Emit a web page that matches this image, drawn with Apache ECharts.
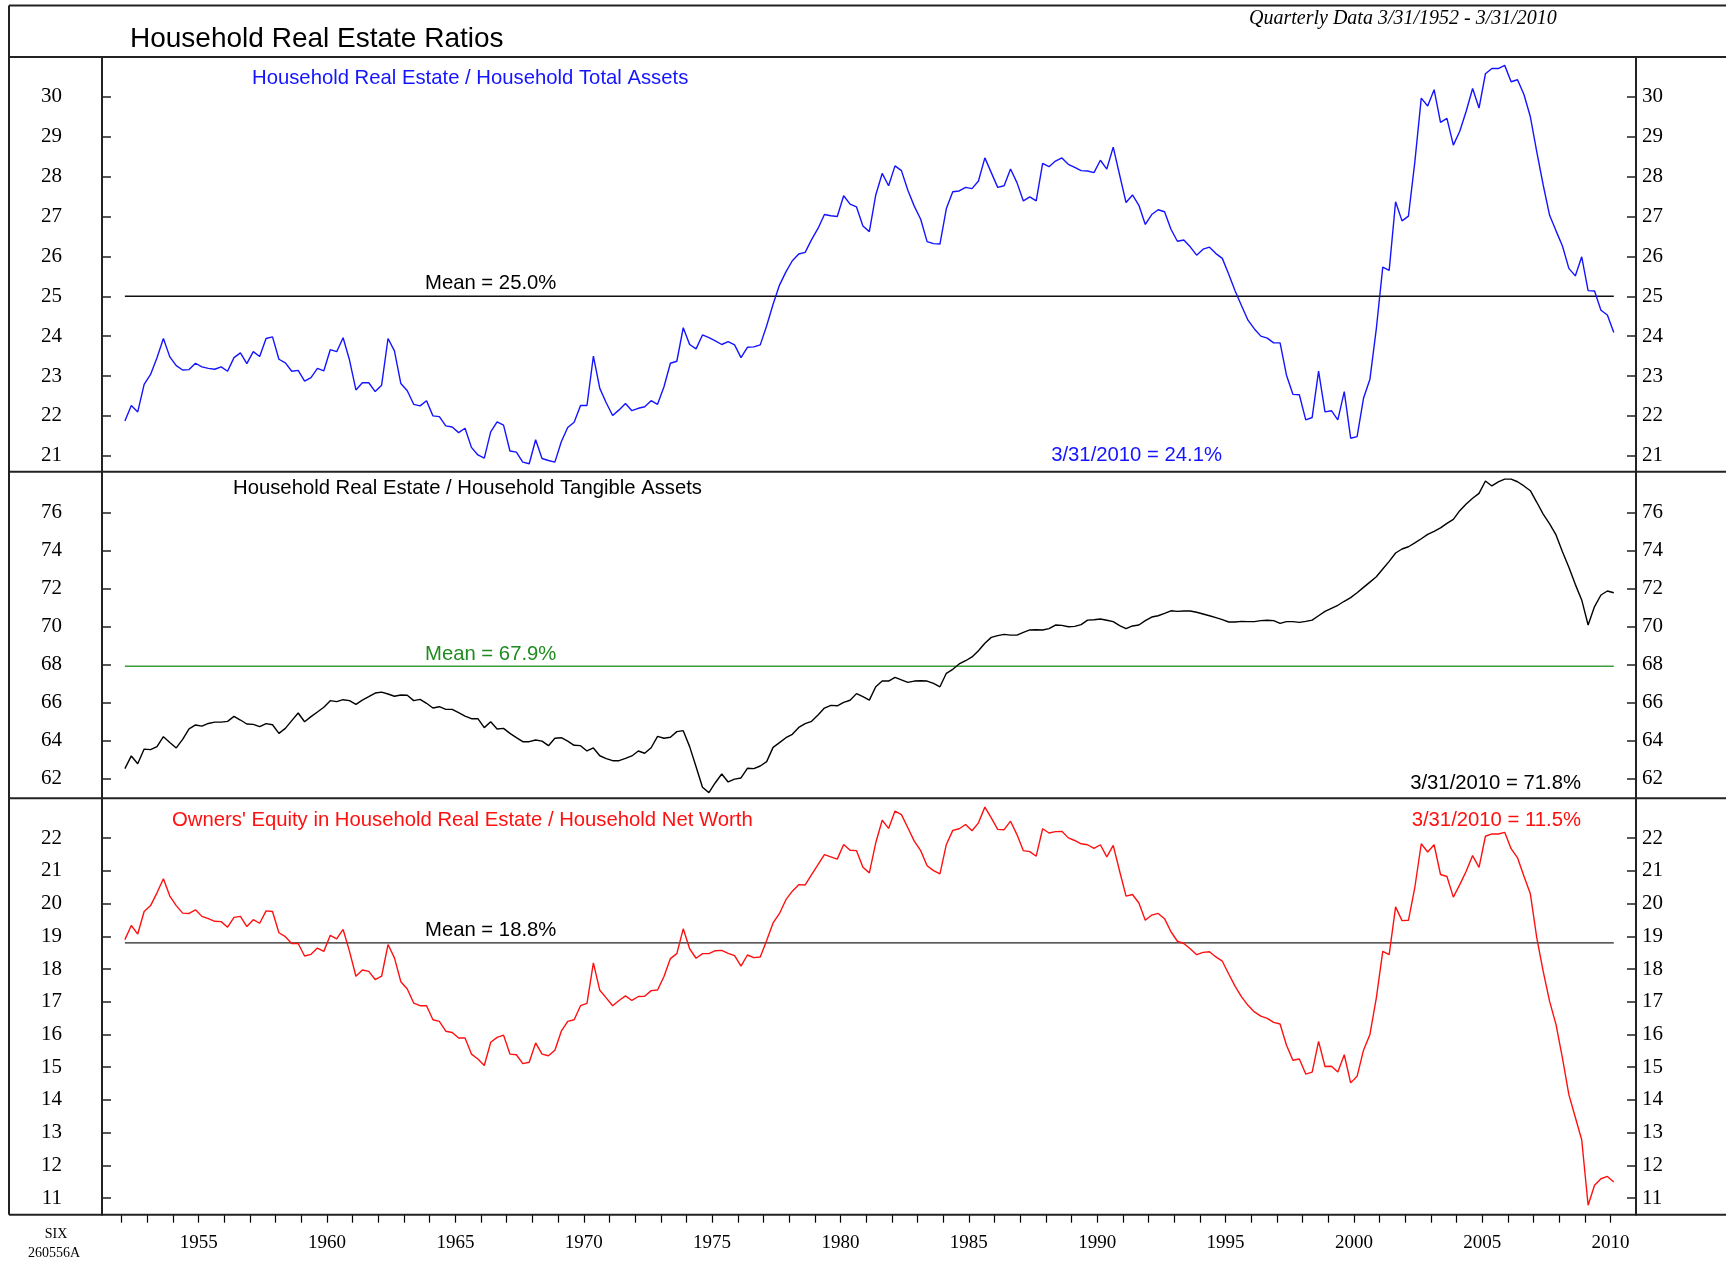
<!DOCTYPE html>
<html>
<head>
<meta charset="utf-8">
<title>Household Real Estate Ratios</title>
<script src="https://cdn.jsdelivr.net/npm/echarts@6/dist/echarts.min.js"></script>
<style>
  html, body { margin: 0; padding: 0; background: #ffffff; }
  #chart { width: 1726px; height: 1263px; }
</style>
</head>
<body>
<div id="chart"></div>
<script>
// ---------------- DATA (quarterly, 3/31/1952 - 3/31/2010) ----------------
const startYear = 1952;

// Household Real Estate / Household Total Assets (%)
const reTotalAssets = [
  21.87,22.26,22.10,22.79,23.04,23.46,23.94,23.48,23.26,23.15,
  23.16,23.32,23.23,23.19,23.17,23.23,23.12,23.46,23.58,23.31,
  23.61,23.49,23.94,23.98,23.42,23.33,23.12,23.14,22.87,22.96,
  23.19,23.13,23.66,23.61,23.96,23.40,22.65,22.83,22.83,22.61,
  22.77,23.94,23.63,22.81,22.63,22.29,22.25,22.38,22.00,21.98,
  21.75,21.72,21.58,21.69,21.21,21.02,20.94,21.60,21.85,21.77,
  21.12,21.09,20.84,20.80,21.40,20.93,20.88,20.84,21.35,21.71,
  21.84,22.26,22.26,23.50,22.69,22.33,22.01,22.15,22.31,22.13,
  22.19,22.23,22.38,22.29,22.73,23.32,23.37,24.21,23.79,23.68,
  24.03,23.96,23.88,23.79,23.86,23.78,23.46,23.72,23.73,23.78,
  24.26,24.80,25.28,25.61,25.89,26.06,26.10,26.42,26.70,27.05,
  27.02,27.00,27.52,27.31,27.24,26.76,26.62,27.54,28.08,27.77,
  28.27,28.15,27.66,27.26,26.93,26.37,26.32,26.31,27.20,27.62,
  27.64,27.73,27.70,27.89,28.47,28.10,27.73,27.77,28.19,27.85,
  27.39,27.49,27.39,28.33,28.25,28.39,28.47,28.31,28.23,28.15,
  28.14,28.10,28.41,28.19,28.74,28.04,27.35,27.54,27.28,26.80,
  27.05,27.17,27.12,26.68,26.38,26.41,26.24,26.03,26.18,26.23,
  26.07,25.95,25.55,25.13,24.76,24.40,24.18,24.00,23.95,23.83,
  23.83,23.02,22.54,22.53,21.90,21.96,23.12,22.10,22.13,21.90,
  22.61,21.44,21.48,22.44,22.92,24.19,25.73,25.65,27.37,26.89,
  27.01,28.37,29.97,29.77,30.18,29.36,29.46,28.79,29.14,29.64,
  30.21,29.72,30.58,30.71,30.71,30.79,30.38,30.43,30.06,29.50,
  28.62,27.79,27.03,26.64,26.26,25.70,25.51,25.99,25.14,25.13,
  24.65,24.53,24.09
];

// Household Real Estate / Household Tangible Assets (%)
const reTangibleAssets = [
  62.51,63.18,62.77,63.54,63.51,63.67,64.19,63.89,63.60,64.05,
  64.60,64.81,64.75,64.89,64.96,64.96,65.00,65.26,65.07,64.86,
  64.84,64.72,64.88,64.82,64.37,64.63,65.04,65.44,64.98,65.25,
  65.49,65.74,66.09,66.04,66.14,66.09,65.89,66.12,66.30,66.49,
  66.54,66.44,66.32,66.39,66.37,66.09,66.16,65.95,65.70,65.77,
  65.63,65.63,65.46,65.28,65.14,65.14,64.67,64.98,64.60,64.63,
  64.37,64.14,63.93,63.93,64.02,63.96,63.72,64.11,64.14,63.96,
  63.74,63.72,63.44,63.60,63.19,63.04,62.93,62.93,63.05,63.18,
  63.44,63.32,63.61,64.21,64.11,64.16,64.46,64.51,63.67,62.61,
  61.53,61.25,61.77,62.23,61.81,61.96,62.02,62.53,62.51,62.65,
  62.88,63.63,63.88,64.14,64.32,64.68,64.88,65.00,65.33,65.70,
  65.84,65.82,66.00,66.11,66.46,66.30,66.12,66.82,67.12,67.12,
  67.32,67.18,67.05,67.12,67.14,67.12,67.00,66.82,67.53,67.74,
  68.02,68.19,68.39,68.72,69.11,69.42,69.51,69.58,69.54,69.54,
  69.68,69.81,69.82,69.81,69.88,70.07,70.05,69.98,70.00,70.09,
  70.33,70.35,70.39,70.32,70.25,70.04,69.88,70.02,70.07,70.30,
  70.49,70.56,70.68,70.82,70.79,70.81,70.81,70.74,70.65,70.56,
  70.46,70.35,70.23,70.23,70.26,70.25,70.25,70.30,70.32,70.30,
  70.16,70.25,70.25,70.21,70.26,70.33,70.56,70.79,70.95,71.11,
  71.32,71.51,71.77,72.05,72.33,72.61,73.02,73.42,73.86,74.07,
  74.19,74.39,74.61,74.84,75.00,75.18,75.42,75.63,76.09,76.44,
  76.74,77.00,77.65,77.39,77.60,77.75,77.75,77.61,77.39,77.14,
  76.53,75.91,75.39,74.81,73.93,73.11,72.21,71.39,70.07,71.04,
  71.65,71.86,71.77
];

// Owners' Equity in Household Real Estate / Household Net Worth (%)
const ownersEquityNetWorth = [
  18.90,19.33,19.07,19.76,19.94,20.33,20.76,20.23,19.94,19.71,
  19.70,19.81,19.61,19.54,19.46,19.45,19.28,19.58,19.61,19.30,
  19.51,19.40,19.78,19.76,19.11,18.99,18.78,18.78,18.40,18.45,
  18.64,18.54,19.03,18.92,19.21,18.54,17.78,17.97,17.93,17.68,
  17.78,18.75,18.34,17.61,17.39,16.96,16.88,16.88,16.45,16.40,
  16.10,16.06,15.89,15.89,15.40,15.25,15.05,15.76,15.91,15.98,
  15.40,15.38,15.11,15.15,15.74,15.40,15.35,15.52,16.10,16.40,
  16.45,16.88,16.95,18.19,17.35,17.12,16.88,17.04,17.18,17.04,
  17.16,17.17,17.34,17.36,17.77,18.32,18.47,19.23,18.62,18.33,
  18.47,18.47,18.56,18.57,18.48,18.41,18.09,18.43,18.35,18.37,
  18.87,19.41,19.70,20.12,20.38,20.58,20.57,20.89,21.19,21.50,
  21.43,21.36,21.81,21.63,21.62,21.11,20.94,21.86,22.55,22.30,
  22.83,22.72,22.32,21.91,21.62,21.16,21.01,20.91,21.81,22.24,
  22.29,22.42,22.23,22.47,22.95,22.62,22.27,22.26,22.52,22.11,
  21.62,21.59,21.45,22.29,22.16,22.20,22.21,22.01,21.93,21.83,
  21.80,21.69,21.80,21.43,21.78,20.99,20.23,20.28,20.02,19.49,
  19.65,19.70,19.54,19.14,18.85,18.78,18.62,18.44,18.51,18.53,
  18.37,18.24,17.85,17.47,17.15,16.89,16.69,16.56,16.49,16.37,
  16.32,15.67,15.21,15.25,14.79,14.85,15.79,15.02,15.03,14.85,
  15.38,14.52,14.72,15.52,16.00,17.12,18.54,18.44,19.90,19.48,
  19.49,20.50,21.83,21.58,21.80,20.89,20.83,20.20,20.58,20.99,
  21.47,21.11,22.06,22.13,22.13,22.18,21.68,21.40,20.84,20.30,
  18.95,17.93,17.01,16.30,15.28,14.16,13.47,12.78,10.78,11.39,
  11.59,11.66,11.49
];

const means = [25.0, 67.9, 18.8];
const latest = [24.1, 71.8, 11.5];

const yTicks1 = [21,22,23,24,25,26,27,28,29,30];
const yTicks2 = [62,64,66,68,70,72,74,76];
const yTicks3 = [11,12,13,14,15,16,17,18,19,20,21,22];
const yearLabels = [1955,1960,1965,1970,1975,1980,1985,1990,1995,2000,2005,2010];
const yearTicks = [];
for (let y = 1952; y <= 2010; y++) yearTicks.push(y);

// ---------------- BUILD ----------------
// quarter-end dates plotted at mid-quarter position on a year scale
const times = reTotalAssets.map((_, i) => startYear + 0.125 + 0.25 * i);
const pairs = arr => arr.map((v, i) => [times[i], v]);
const meanPairs = m => [[times[0], m], [times[times.length - 1], m]];

const LEFT = 102, RIGHT_X = 1636;
const P1T = 57, P1B = 471.7, P2B = 798.3, P3B = 1214.7;
const XMIN = 1951.233, XMAX = 2010.99;
const SERIF = '"Liberation Serif", "Times New Roman", serif';
const SANS = '"Liberation Sans", Arial, sans-serif';

function xAxisFor(idx, showLabels) {
  return {
    type: 'value', gridIndex: idx, min: XMIN, max: XMAX,
    splitLine: { show: false },
    axisLine: { show: false },
    axisTick: showLabels ? {
      show: true, inside: false, length: 8, customValues: yearTicks,
      lineStyle: { color: '#000', width: 1.2 }
    } : { show: false },
    axisLabel: showLabels ? {
      show: true, customValues: yearLabels, margin: 19,
      fontFamily: SERIF, fontSize: 19, color: '#000',
      formatter: v => String(Math.round(v))
    } : { show: false }
  };
}
function yAxisFor(idx, min, max, ticks, pos) {
  return {
    type: 'value', gridIndex: idx, position: pos, min: min, max: max,
    splitLine: { show: false },
    axisLine: { show: true, onZero: false, lineStyle: { color: '#222', width: 2 } },
    axisTick: { show: true, inside: true, length: 9, customValues: ticks,
      lineStyle: { color: '#222', width: 1.5 } },
    axisLabel: { show: true, customValues: ticks, margin: pos === 'left' ? 40 : 6,
      fontFamily: SERIF, fontSize: 21, color: '#000',
      formatter: v => String(Math.round(v)) }
  };
}

const grids = [
  { left: LEFT, width: RIGHT_X - LEFT, top: P1T, height: P1B - P1T },
  { left: LEFT, width: RIGHT_X - LEFT, top: P1B, height: P2B - P1B },
  { left: LEFT, width: RIGHT_X - LEFT, top: P2B, height: P3B - P2B }
];

const lineSeries = (name, xi, yi, data, color, width) => ({
  name, type: 'line', xAxisIndex: xi, yAxisIndex: yi, data,
  showSymbol: false, symbol: 'none', silent: true,
  lineStyle: { color, width }, z: 3
});

function hline(x1, y1, x2, y2, w) {
  return { type: 'line', shape: { x1, y1, x2, y2 },
    style: { stroke: '#222', lineWidth: w || 2 }, z: 10 };
}
function txt(text, x, y, opts) {
  return { type: 'text', z: 11, style: Object.assign({
    text, x, y, fill: '#000', font: '20.3px ' + SANS,
    textAlign: 'left', textVerticalAlign: 'middle'
  }, opts || {}) };
}

const option = {
  animation: false,
  backgroundColor: '#ffffff',
  grid: grids,
  xAxis: [xAxisFor(0, false), xAxisFor(1, false), xAxisFor(2, true)],
  yAxis: [
    yAxisFor(0, 20.6, 31.0, yTicks1, 'left'),
    yAxisFor(0, 20.6, 31.0, yTicks1, 'right'),
    yAxisFor(1, 60.95, 78.14, yTicks2, 'left'),
    yAxisFor(1, 60.95, 78.14, yTicks2, 'right'),
    yAxisFor(2, 10.49, 23.22, yTicks3, 'left'),
    yAxisFor(2, 10.49, 23.22, yTicks3, 'right')
  ],
  series: [
    lineSeries('Mean total', 0, 0, meanPairs(means[0]), '#111', 1.4),
    lineSeries('RE / Total Assets', 0, 0, pairs(reTotalAssets), '#1414ff', 1.4),
    lineSeries('Mean tangible', 1, 2, meanPairs(means[1]), '#3a9e3a', 1.6),
    lineSeries('RE / Tangible Assets', 1, 2, pairs(reTangibleAssets), '#000', 1.4),
    lineSeries('Mean equity', 2, 4, meanPairs(means[2]), '#222', 1.4),
    lineSeries('Owners Equity / Net Worth', 2, 4, pairs(ownersEquityNetWorth), '#ff1010', 1.4)
  ],
  graphic: [
    // frame
    hline(9, 5.5, 1726, 5.5, 2),
    hline(9, 5.5, 9, P3B, 2),
    hline(9, P1T, 1726, P1T, 2),
    hline(9, P1B, 1726, P1B, 2),
    hline(9, P2B, 1726, P2B, 2),
    hline(9, P3B, 1726, P3B, 2),
    // header
    txt('Household Real Estate Ratios', 130, 39.5, { font: '28px ' + SANS }),
    txt('Quarterly Data 3/31/1952 - 3/31/2010', 1249, 18.5, { font: 'italic 20px ' + SERIF }),
    // panel 1
    txt('Household Real Estate / Household Total Assets', 252, 78, { fill: '#1414ff' }),
    txt('Mean = ' + means[0].toFixed(1) + '%', 425, 283),
    txt('3/31/2010 = ' + latest[0].toFixed(1) + '%', 1222, 455, { fill: '#1414ff', textAlign: 'right' }),
    // panel 2
    txt('Household Real Estate / Household Tangible Assets', 233, 488),
    txt('Mean = ' + means[1].toFixed(1) + '%', 425, 654, { fill: '#1f8c1f' }),
    txt('3/31/2010 = ' + latest[1].toFixed(1) + '%', 1581, 783, { textAlign: 'right' }),
    // panel 3
    txt("Owners' Equity in Household Real Estate / Household Net Worth", 172, 820, { fill: '#ff1010' }),
    txt('3/31/2010 = ' + latest[2].toFixed(1) + '%', 1581, 820, { fill: '#ff1010', textAlign: 'right' }),
    txt('Mean = ' + means[2].toFixed(1) + '%', 425, 930),
    // footer code
    txt('SIX', 56, 1234, { font: '14px ' + SERIF, textAlign: 'center' }),
    txt('260556A', 54, 1253, { font: '14px ' + SERIF, textAlign: 'center' })
  ]
};

const chart = echarts.init(document.getElementById('chart'), null, { renderer: 'canvas' });
chart.setOption(option);
</script>
</body>
</html>
